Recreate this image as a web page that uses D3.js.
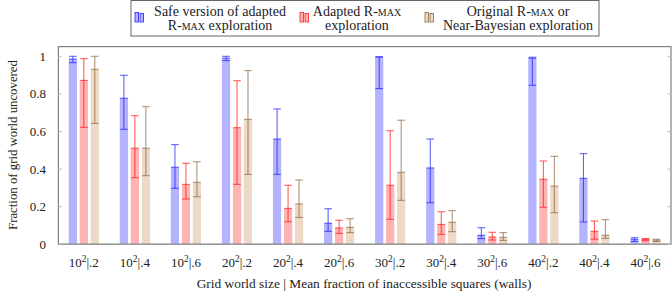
<!DOCTYPE html>
<meta charset="utf-8">
<script src="https://d3js.org/d3.v7.min.js"></script>
<style>
  body { margin: 0; background: #fff; }
</style>
<div id="chart"></div>
<script>
// categories: grid size | wall fraction
var groups = ["10|.2", "10|.4", "10|.6", "20|.2", "20|.4", "20|.6",
              "30|.2", "30|.4", "30|.6", "40|.2", "40|.4", "40|.6"];
var seriesNames = ["safe", "adapted", "original"];

// bar value, lower and upper error bar end, per series
var safeVal = [0.985, 0.777, 0.410, 0.990, 0.560, 0.112, 0.995, 0.406, 0.048, 0.990, 0.351, 0.027];
var safeLo  = [0.966, 0.612, 0.298, 0.977, 0.372, 0.069, 0.828, 0.221, 0.030, 0.846, 0.119, 0.015];
var safeHi  = [1.000, 0.899, 0.530, 1.000, 0.720, 0.189, 0.998, 0.560, 0.088, 0.995, 0.482, 0.035];

var adaptVal = [0.872, 0.511, 0.319, 0.620, 0.191, 0.087, 0.314, 0.106, 0.039, 0.346, 0.069, 0.025];
var adaptLo  = [0.622, 0.354, 0.241, 0.319, 0.120, 0.058, 0.133, 0.053, 0.023, 0.197, 0.027, 0.019];
var adaptHi  = [0.987, 0.684, 0.431, 0.870, 0.314, 0.128, 0.604, 0.173, 0.064, 0.443, 0.124, 0.031];

var origVal = [0.931, 0.511, 0.330, 0.665, 0.215, 0.090, 0.383, 0.117, 0.037, 0.310, 0.048, 0.022];
var origLo  = [0.643, 0.365, 0.253, 0.372, 0.143, 0.062, 0.234, 0.067, 0.021, 0.168, 0.032, 0.015];
var origHi  = [1.000, 0.732, 0.439, 0.924, 0.342, 0.136, 0.660, 0.179, 0.062, 0.468, 0.131, 0.027];

var yTicks = [0, 0.2, 0.4, 0.6, 0.8, 1];

var fills = {safe: "#b3b3ff", adapted: "#ffb3b3", original: "#ecd9c6"};
var strokes = {safe: "#2020ff", adapted: "#ff1a1a", original: "#8c6642"};

var FONT = "Liberation Serif";
var W = 672, H = 295;
var mLeft = 58.3, mRight = 671, mTop = 46.7, mBottom = 244.3;

var svg = d3.select("#chart").append("svg")
  .attr("width", W).attr("height", H);

function label(sel, size) {
  return sel.attr("font-family", FONT).attr("font-size", size || 13).attr("fill", "#222");
}

var x = d3.scaleBand().domain(groups).range([mLeft, mRight]).padding(0);
var x1 = d3.scaleBand().domain(seriesNames).range([-15.1, 15.1]).paddingInner(0.25).paddingOuter(0);
var y = d3.scaleLinear().domain([0, 1.051]).range([mBottom, mTop]);

var rows = [];
groups.forEach(function(g, i) {
  rows.push({g: g, s: "safe", v: safeVal[i], lo: safeLo[i], hi: safeHi[i]});
  rows.push({g: g, s: "adapted", v: adaptVal[i], lo: adaptLo[i], hi: adaptHi[i]});
  rows.push({g: g, s: "original", v: origVal[i], lo: origLo[i], hi: origHi[i]});
});

// bars
svg.append("g").selectAll("rect")
  .data(rows).enter().append("rect")
  .attr("x", function(d) { return x(d.g) + x.bandwidth() / 2 + x1(d.s); })
  .attr("y", function(d) { return y(d.v); })
  .attr("width", x1.bandwidth())
  .attr("height", function(d) { return y(0) - y(d.v); })
  .style("fill", function(d) { return fills[d.s]; });

// error bars
var eb = svg.append("g").selectAll("g").data(rows).enter().append("g")
  .attr("stroke", function(d) { return strokes[d.s]; })
  .attr("stroke-width", 0.9)
  .attr("opacity", 0.85);
function cx(d) { return x(d.g) + x.bandwidth() / 2 + x1(d.s) + x1.bandwidth() / 2; }
eb.append("line")
  .attr("x1", cx).attr("x2", cx)
  .attr("y1", function(d) { return y(d.lo); })
  .attr("y2", function(d) { return y(d.hi); });
["lo", "hi", "v"].forEach(function(k) {
  eb.append("line")
    .attr("x1", function(d) { return cx(d) - 3.8; })
    .attr("x2", function(d) { return cx(d) + 3.8; })
    .attr("y1", function(d) { return y(d[k]); })
    .attr("y2", function(d) { return y(d[k]); });
});

// frame
svg.append("rect")
  .attr("x", mLeft).attr("y", mTop)
  .attr("width", mRight - mLeft).attr("height", mBottom - mTop)
  .attr("fill", "none").attr("stroke", "#555").attr("stroke-width", 0.9);
svg.append("line")
  .attr("x1", mLeft).attr("x2", mRight)
  .attr("y1", mBottom).attr("y2", mBottom)
  .attr("stroke", "#999").attr("stroke-width", 1.6);

// y axis
var yAxis = svg.append("g");
yTicks.forEach(function(t) {
  yAxis.append("line").attr("x1", mLeft).attr("x2", mLeft + 3.5)
    .attr("y1", y(t)).attr("y2", y(t)).attr("stroke", "#bbb");
  yAxis.append("line").attr("x1", mRight - 3.5).attr("x2", mRight)
    .attr("y1", y(t)).attr("y2", y(t)).attr("stroke", "#bbb");
  label(yAxis.append("text"), 13)
    .attr("x", 46).attr("y", y(t) + 4.5)
    .attr("text-anchor", "end")
    .text(t);
});

// x labels
groups.forEach(function(g) {
  var parts = g.split("|");
  var t = label(svg.append("text"), 13)
    .attr("x", x(g) + x.bandwidth() / 2)
    .attr("y", 267)
    .attr("text-anchor", "middle");
  t.append("tspan").text(parts[0]);
  t.append("tspan").attr("dy", -5).attr("font-size", 9.5).text("2");
  t.append("tspan").attr("dy", 5).text("|" + parts[1]);
});

label(svg.append("text"), 13.4)
  .attr("x", 364).attr("y", 288)
  .attr("text-anchor", "middle")
  .text("Grid world size | Mean fraction of inaccessible squares (walls)");

label(svg.append("text"), 12.8)
  .attr("transform", "translate(17,145) rotate(-90)")
  .attr("text-anchor", "middle")
  .text("Fraction of grid world uncovered");

// legend
var lg = svg.append("g");
lg.append("rect")
  .attr("x", 131).attr("y", 0.5).attr("width", 468).attr("height", 35.5)
  .attr("fill", "#fff").attr("stroke", "#555").attr("stroke-width", 0.9);

var legendItems = [
  {s: "safe", ix: 135, tx: 220, l1: ["Safe version of adapted"], l2: ["R-", "max", " exploration"]},
  {s: "adapted", ix: 300, tx: 357, l1: ["Adapted R-", "max"], l2: ["exploration"]},
  {s: "original", ix: 425, tx: 518, l1: ["Original R-", "max", " or"], l2: ["Near-Bayesian exploration"]}
];
legendItems.forEach(function(it) {
  [0, 5].forEach(function(off, j) {
    lg.append("rect")
      .attr("x", it.ix + off).attr("y", j === 0 ? 12.5 : 13.5)
      .attr("width", 3.5).attr("height", j === 0 ? 9.5 : 8.5)
      .attr("fill", fills[it.s]).attr("stroke", strokes[it.s]).attr("stroke-width", 0.8);
  });
  [it.l1, it.l2].forEach(function(line, li) {
    var t = label(lg.append("text"), 14)
      .attr("x", it.tx).attr("y", 15.5 + li * 14)
      .attr("text-anchor", "middle");
    line.forEach(function(p) {
      var sp = t.append("tspan").text(p);
      if (p === "max") sp.attr("font-variant", "small-caps");
    });
  });
});
</script>
